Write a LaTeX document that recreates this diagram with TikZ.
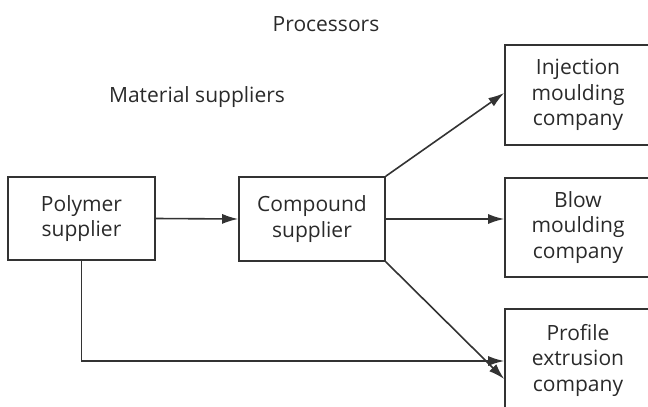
\documentclass[tikz,border=0pt]{standalone}
\usepackage{fontspec}
\setmainfont{Open Sans}
\usetikzlibrary{arrows.meta}
\definecolor{linegray}{HTML}{333333}
\definecolor{textgray}{HTML}{2A2A2A}
\begin{document}
\begin{tikzpicture}[x=1pt, y=-1pt,
    box/.style={draw=linegray, line width=1.6pt, align=center, text=textgray,
        font=\fontsize{21}{25.5}\selectfont, inner sep=0pt},
    flow/.style={draw=linegray, line width=1.6pt, -{Latex[length=16pt,width=10pt]}},
    heading/.style={text=textgray, font=\fontsize{21}{25.5}\selectfont}]
        \clip (0,0) rectangle (648,407);

        % Headings
        \node[heading] (proc) at (326, 24) {Processors};
        \node[heading] (mat) at (197, 97) {Material suppliers};

        % Suppliers
        \node[box, minimum width=147pt, minimum height=83pt] (poly) at (81.5, 218.5) {Polymer\\supplier};
        \node[box, minimum width=146pt, minimum height=84pt] (comp) at (312, 219) {Compound\\supplier};

        % Processors
        \node[box, minimum width=146pt, minimum height=100pt] (inj) at (578, 95) {Injection\\moulding\\company};
        \node[box, minimum width=146pt, minimum height=99pt] (blow) at (578, 227.5) {Blow\\moulding\\company};
        \node[box, minimum width=146pt, minimum height=102pt] (prof) at (578, 360) {Profile\\extrusion\\company};

        % Flows
        \draw[flow] (poly.east) -- (comp.west);
        \draw[flow] (comp.north east) -- ([yshift=2pt]inj.west);
        \draw[flow] (comp.east) -- (comp.east -| blow.west);
        \draw[flow] (comp.south east) -- ([yshift=-19pt]prof.west);
        \draw[flow] (poly.south) |- ([yshift=-1pt]prof.west);

    \end{tikzpicture}
\end{document}
